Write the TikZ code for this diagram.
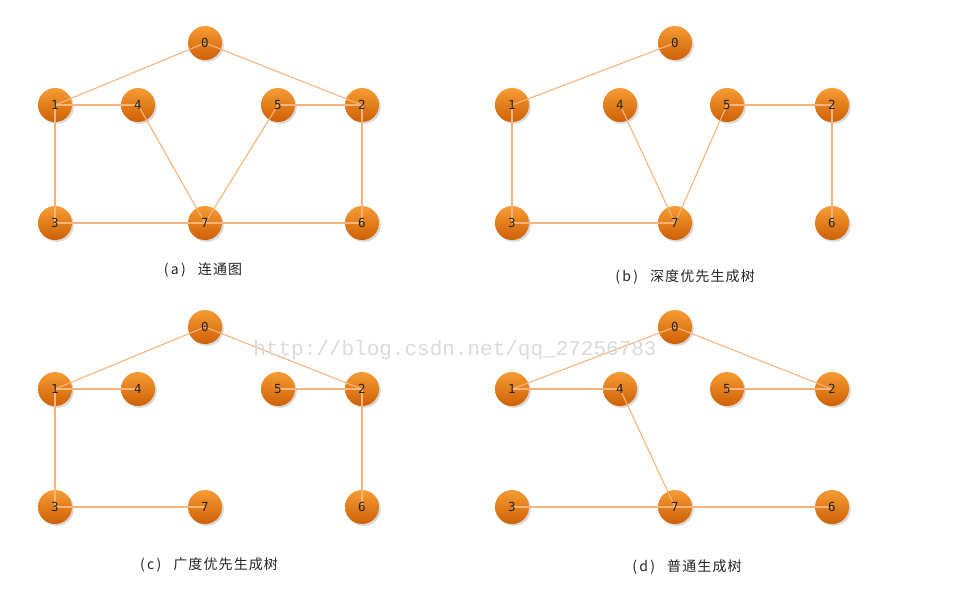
\documentclass[tikz,border=0pt]{standalone}
\usepackage{fontspec}
\newfontfamily\cjk[LetterSpace=8]{Noto Sans CJK SC}
\newfontfamily\wmfont{Liberation Mono}
\newfontfamily\numfont{DejaVu Sans Mono}
\usetikzlibrary{shadows}
\definecolor{edgec}{RGB}{250,180,122}
\definecolor{balltop}{RGB}{246,156,52}
\definecolor{ballbot}{RGB}{206,96,6}
\tikzset{
  vert/.style={circle, minimum size=34pt, inner sep=0pt, top color=balltop, bottom color=ballbot,
    drop shadow={shadow xshift=1.8pt, shadow yshift=-1.8pt, opacity=0.3}},
  vlabel/.style={font=\numfont\fontsize{12.5}{12.5}\selectfont, inner sep=0pt, text=black!85},
  edge/.style={draw=edgec, line width=1.1pt},
  captext/.style={font=\cjk\fontsize{14}{16}\selectfont, inner sep=0pt, text=black!85},
  wmark/.style={font=\wmfont\fontsize{21}{21}\selectfont, text=black!14, inner sep=0pt}
}
\newcommand\capt[2]{(\,#1\,)\hspace{12pt}#2}
\def\layL{0/205/43,1/55/105,4/138/105,5/278/105,2/362/105,3/55/223,7/205/223,6/362/223}
\def\layR{0/675/43,1/512/105,4/620/105,5/727/105,2/832/105,3/512/223,7/675/223,6/832/223}
\newcommand\mkverts[3]{%
  \foreach \n/\x/\y in #2 {\node[vert] (#1\n) at (\x,\y+#3) {};}}
\newcommand\mklabels[1]{%
  \foreach \n in {0,...,7} {\node[vlabel] (#1\n t) at (#1\n) {\n};}}
\begin{document}
\begin{tikzpicture}[x=1pt,y=-1pt]
\useasboundingbox[fill=white] (0,0) rectangle (958,598);
% panel vertices
\mkverts{a}{\layL}{0}
\mkverts{b}{\layR}{0}
\mkverts{c}{\layL}{284}
\mkverts{d}{\layR}{284}
% (a) connected graph
\draw[edge] (a0.center) -- (a1.center);
\draw[edge] (a0.center) -- (a2.center);
\draw[edge] (a1.center) -- (a4.center);
\draw[edge] (a1.center) -- (a3.center);
\draw[edge] (a4.center) -- (a7.center);
\draw[edge] (a5.center) -- (a7.center);
\draw[edge] (a5.center) -- (a2.center);
\draw[edge] (a2.center) -- (a6.center);
\draw[edge] (a3.center) -- (a7.center);
\draw[edge] (a7.center) -- (a6.center);
% (b) DFS tree
\draw[edge] (b0.center) -- (b1.center);
\draw[edge] (b1.center) -- (b3.center);
\draw[edge] (b3.center) -- (b7.center);
\draw[edge] (b4.center) -- (b7.center);
\draw[edge] (b7.center) -- (b5.center);
\draw[edge] (b5.center) -- (b2.center);
\draw[edge] (b2.center) -- (b6.center);
% (c) BFS tree
\draw[edge] (c0.center) -- (c1.center);
\draw[edge] (c0.center) -- (c2.center);
\draw[edge] (c1.center) -- (c4.center);
\draw[edge] (c1.center) -- (c3.center);
\draw[edge] (c3.center) -- (c7.center);
\draw[edge] (c5.center) -- (c2.center);
\draw[edge] (c2.center) -- (c6.center);
% (d) spanning tree
\draw[edge] (d0.center) -- (d1.center);
\draw[edge] (d0.center) -- (d2.center);
\draw[edge] (d1.center) -- (d4.center);
\draw[edge] (d4.center) -- (d7.center);
\draw[edge] (d3.center) -- (d7.center);
\draw[edge] (d7.center) -- (d6.center);
\draw[edge] (d5.center) -- (d2.center);
% vertex numbers
\mklabels{a}
\mklabels{b}
\mklabels{c}
\mklabels{d}
% captions
\node[captext] (capa) at (203,270) {\capt{a}{连通图}};
\node[captext] (capb) at (685,277) {\capt{b}{深度优先生成树}};
\node[captext] (capc) at (209,565) {\capt{c}{广度优先生成树}};
\node[captext] (capd) at (687,567) {\capt{d}{普通生成树}};
% watermark
\node[wmark] (wm) at (455,350) {http://blog.csdn.net/qq\_27256783};
\end{tikzpicture}
\end{document}
